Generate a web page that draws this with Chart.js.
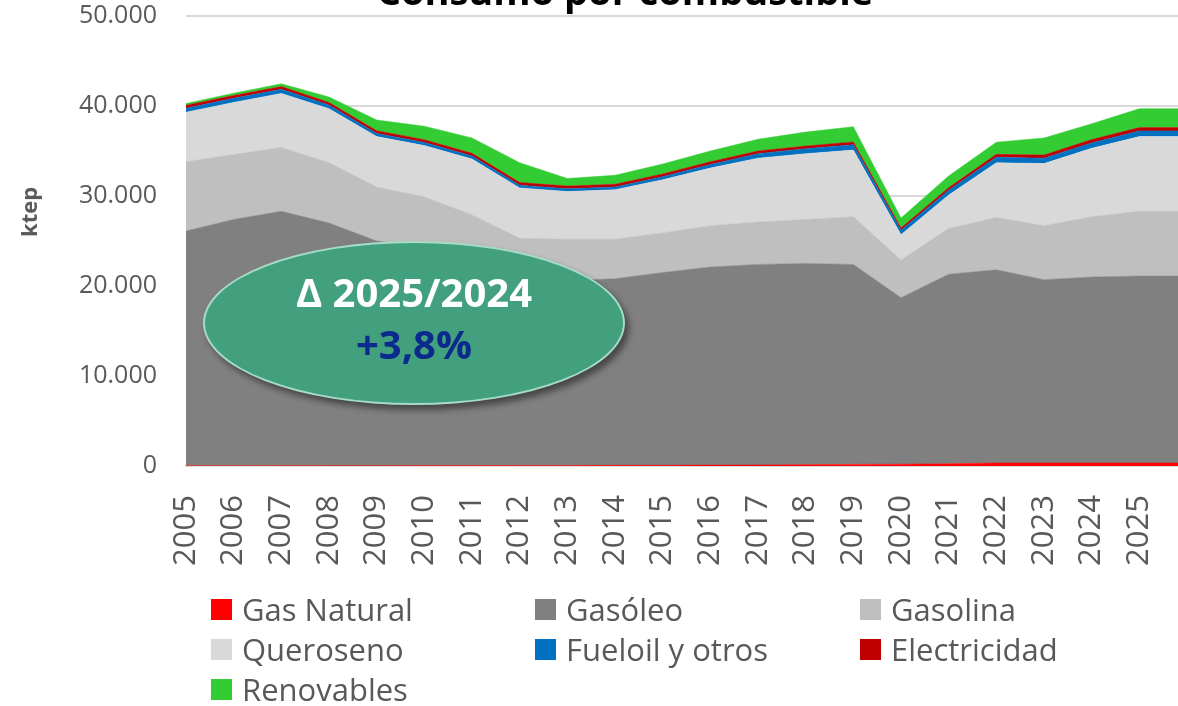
<!DOCTYPE html>
<html>
<head>
<meta charset="utf-8">
<script src="https://cdn.jsdelivr.net/npm/chart.js@4"></script>
<style>
  html, body { margin: 0; padding: 0; background: #fff; overflow: hidden; }
  body { width: 1178px; height: 706px; position: relative; font-family: 'Open Sans', sans-serif; }
  #wrap { position: absolute; left: 0; top: 0; width: 1187px; height: 706px; }
  #title { position: absolute; left: 325px; width: 600px; top: -29px; text-align: center;
    font: bold 38px/38px 'Open Sans', sans-serif; color: #000; white-space: nowrap; }
  #ytitle { position: absolute; left: 28px; top: 212px; transform: translate(-50%, -50%) rotate(-90deg);
    font: bold 22px/22px 'Open Sans', sans-serif; color: #595959; }
  #bubble { position: absolute; left: 203px; top: 241px; width: 418px; height: 160px; border-radius: 50%;
    background: #43a07e; border: 2px solid #a6dbc6; box-shadow: 4px 5px 6px rgba(0,0,0,0.45);
    text-align: center; font-family: 'Open Sans', sans-serif; font-weight: bold; }
  #bubble .l1 { position: absolute; left: 0; right: 0; top: 23px; font-size: 40px; line-height: 52px; color: #fff; }
  #bubble .l2 { position: absolute; left: 0; right: 0; top: 75px; font-size: 40px; line-height: 52px; color: #0b2a8c; }
  .leg { position: absolute; display: flex; align-items: center; font: 31px/31px 'Open Sans', sans-serif; color: #595959; white-space: nowrap; }
  .leg i { display: inline-block; width: 21px; height: 21px; margin-right: 10px; }
</style>
</head>
<body>
<div id="wrap"><canvas id="c"></canvas></div>
<div id="title">Consumo por combustible</div>
<div id="ytitle">ktep</div>
<div id="bubble"><div class="l1">Δ 2025/2024</div><div class="l2">+3,8%</div></div>
<div id="legend"></div>
<script>
// años (la última categoría, sin etiqueta, prolonga 2025 hasta el borde)
const years = ['2005', '2006', '2007', '2008', '2009', '2010', '2011', '2012', '2013', '2014', '2015',
  '2016', '2017', '2018', '2019', '2020', '2021', '2022', '2023', '2024', '2025', ''];

// ktep
const gasNatural = [20, 20, 30, 40, 40, 50, 50, 60, 60, 70, 80, 100, 120, 150, 180, 200, 250, 330, 330, 330, 330, 330];
const gasoleo = [26080, 27380, 28270, 26960, 24960, 24250, 22950, 21140, 20540, 20730, 21420, 22000, 22280, 22350, 22220,
  18500, 21050, 21470, 20370, 20670, 20770, 20770];
const gasolina = [7700, 7200, 7100, 6700, 6000, 5600, 4900, 4100, 4600, 4400, 4400, 4600, 4700, 4900, 5300,
  4200, 5100, 5800, 6000, 6700, 7200, 7200];
const queroseno = [5500, 5800, 6000, 6000, 5600, 5700, 6200, 5600, 5300, 5500, 5900, 6400, 7100, 7300, 7400,
  2800, 3700, 6100, 6900, 7600, 8300, 8300];
const fueloil = [450, 450, 450, 400, 350, 350, 350, 300, 300, 300, 350, 400, 500, 550, 600, 500, 550, 600, 600, 600, 630, 630];
const electricidad = [330, 320, 310, 300, 300, 300, 300, 300, 300, 300, 300, 300, 300, 300, 300, 250, 280, 330, 350, 370, 370, 370];
const renovables = [200, 250, 300, 600, 1200, 1500, 1700, 2200, 850, 1000, 1100, 1200, 1300, 1550, 1700,
  1100, 1300, 1350, 1900, 1750, 2100, 2100];

const series = [
  { label: 'Gas Natural', data: gasNatural, color: '#ff0000' },
  { label: 'Gasóleo', data: gasoleo, color: '#808080' },
  { label: 'Gasolina', data: gasolina, color: '#bfbfbf' },
  { label: 'Queroseno', data: queroseno, color: '#d9d9d9' },
  { label: 'Fueloil y otros', data: fueloil, color: '#0070c0' },
  { label: 'Electricidad', data: electricidad, color: '#c00000' },
  { label: 'Renovables', data: renovables, color: '#33cc33' },
];

const legendCols = [211, 535, 860];
const legendRows = [599, 639, 679];

const fmt = (v) => String(v).replace(/\B(?=(\d{3})+(?!\d))/g, '.');

// leyenda en tres columnas, como en el original
const legend = document.getElementById('legend');
series.forEach((s, i) => {
  const el = document.createElement('div');
  el.className = 'leg';
  el.style.left = legendCols[i % 3] + 'px';
  el.style.top = (legendRows[Math.floor(i / 3)] - 5) + 'px';
  el.innerHTML = `<i style="background:${s.color}"></i><span>${s.label}</span>`;
  legend.appendChild(el);
});

const ctx = document.getElementById('c').getContext('2d');
new Chart(ctx, {
  type: 'line',
  data: {
    labels: years,
    datasets: series.map((s, i) => ({
      label: s.label,
      data: s.data,
      backgroundColor: s.color,
      borderColor: s.color,
      borderWidth: 0.5,
      pointRadius: 0,
      tension: 0,
      fill: i === 0 ? 'origin' : '-1',
    })),
  },
  options: {
    responsive: true,
    maintainAspectRatio: false,
    animation: false,
    layout: { padding: { top: 16, left: 0, right: 0, bottom: 0 } },
    plugins: {
      legend: { display: false },
      tooltip: { enabled: false },
      title: { display: false },
    },
    scales: {
      x: {
        offset: false,
        border: { display: true, color: '#d9d9d9', width: 2 },
        grid: { display: false },
        ticks: {
          autoSkip: false,
          maxRotation: 90,
          minRotation: 90,
          padding: 21,
          color: '#595959',
          font: { family: 'Open Sans', size: 31 },
        },
        afterFit(scale) {
          scale.height = 240;
          scale.paddingLeft = 0;
          scale.paddingRight = 0;
        },
      },
      y: {
        stacked: true,
        min: 0,
        max: 50000,
        border: { display: false },
        grid: { color: '#d9d9d9', lineWidth: 2, drawTicks: false },
        ticks: {
          stepSize: 10000,
          padding: 29,
          color: '#595959',
          font: { family: 'Open Sans', size: 25 },
          callback: (v) => fmt(v),
        },
        afterFit(scale) {
          scale.width = 186;
          scale.paddingTop = 0;
          scale.paddingBottom = 0;
        },
      },
    },
  },
});
</script>
</body>
</html>
